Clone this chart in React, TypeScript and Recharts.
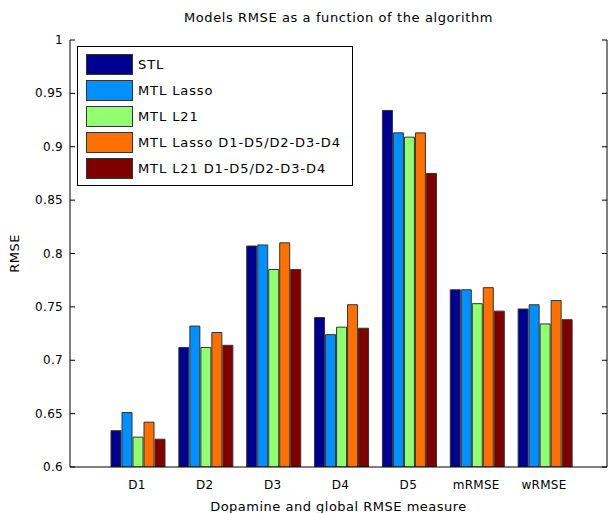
import React from 'react';
import { BarChart, Bar, XAxis, YAxis } from 'recharts';

const categories = ['D1', 'D2', 'D3', 'D4', 'D5', 'mRMSE', 'wRMSE'];
const stl = [0.634, 0.712, 0.807, 0.74, 0.934, 0.766, 0.748];
const mtlLasso = [0.651, 0.732, 0.808, 0.724, 0.913, 0.766, 0.752];
const mtlL21 = [0.628, 0.712, 0.785, 0.731, 0.909, 0.753, 0.734];
const mtlLassoGroups = [0.642, 0.726, 0.81, 0.752, 0.913, 0.768, 0.756];
const mtlL21Groups = [0.626, 0.714, 0.785, 0.73, 0.875, 0.746, 0.738];
const yTicks = [0.6, 0.65, 0.7, 0.75, 0.8, 0.85, 0.9, 0.95, 1];

const seriesNames = ['STL', 'MTL Lasso', 'MTL L21', 'MTL Lasso D1-D5/D2-D3-D4', 'MTL L21 D1-D5/D2-D3-D4'];
const seriesColors = ['#000090', '#0090ff', '#90ff70', '#ff7000', '#800000'];
const seriesValues = [stl, mtlLasso, mtlL21, mtlLassoGroups, mtlL21Groups];

const data = categories.map((name, i) => {
  const row: any = { name };
  seriesNames.forEach((s, k) => { row['s' + k] = seriesValues[k][i]; });
  return row;
});

const FONT = '"DejaVu Sans", Verdana, sans-serif';
const W = 609;
const H = 513;
const LEFT = 70;
const TOP = 40;
const RIGHT = 607;
const BOTTOM = 467;

const LeftTick = (props: any) => {
  const { y, payload } = props;
  return (
    <g>
      <line x1={LEFT} x2={LEFT + 5} y1={y} y2={y} stroke="#000" />
      <text x={LEFT - 7} y={y + 4} textAnchor="end" fontSize={12} fontFamily={FONT} fill="#000" letterSpacing={0.3}>
        {String(payload.value)}
      </text>
    </g>
  );
};

const RightTick = (props: any) => {
  const { y } = props;
  return <line x1={RIGHT - 5} x2={RIGHT} y1={y} y2={y} stroke="#000" />;
};

const TopTick = (props: any) => {
  const { x } = props;
  return <line x1={x} x2={x} y1={TOP} y2={TOP + 5} stroke="#000" />;
};

const BottomTick = (props: any) => {
  const { x, payload } = props;
  return (
    <text x={x} y={BOTTOM + 22} textAnchor="middle" fontSize={12} fontFamily={FONT} fill="#000" letterSpacing={0.3}>
      {payload.value}
    </text>
  );
};

const LegendBox = () => (
  <div
    style={{
      position: 'absolute',
      top: 46,
      left: 77,
      width: 276,
      border: '1px solid #000',
      background: '#fff',
      padding: '4px 0 4px 8px',
      fontFamily: FONT,
      fontSize: 13,
      letterSpacing: 0.9,
      boxSizing: 'border-box',
    }}
  >
    {seriesNames.map((n, k) => (
      <div key={n} style={{ display: 'flex', alignItems: 'center', height: 26 }}>
        <div
          style={{
            width: 45,
            height: 19,
            background: seriesColors[k],
            border: '1px solid #333',
            marginRight: 5,
            flexShrink: 0,
          }}
        />
        <span style={{ whiteSpace: 'nowrap' }}>{n}</span>
      </div>
    ))}
  </div>
);

export default function App() {
  return (
    <div style={{ position: 'absolute', left: 0, top: 0, width: W, height: H, background: '#fff' }}>
      <div
        style={{
          position: 'absolute',
          top: 10,
          left: LEFT,
          width: RIGHT - LEFT,
          textAlign: 'center',
          fontFamily: FONT,
          fontSize: 13,
          letterSpacing: 0.6,
        }}
      >
        Models RMSE as a function of the algorithm
      </div>
      <BarChart
        width={W}
        height={H}
        data={data}
        margin={{ top: TOP, right: W - RIGHT - 2, bottom: 0, left: 0 }}
        barCategoryGap={8}
        barGap={1}
      >
        <XAxis
          dataKey="name"
          xAxisId="bottom"
          height={H - BOTTOM}
          padding={{ left: 33, right: 29 }}
          axisLine={{ stroke: '#000' }}
          tickLine={false}
          tick={<BottomTick />}
          interval={0}
          label={{
            value: 'Dopamine and global RMSE measure',
            position: 'insideBottom',
            offset: 2,
            fontSize: 13,
            fontFamily: FONT,
            letterSpacing: 0.5,
            fill: '#000',
          }}
        />
        <XAxis
          dataKey="name"
          xAxisId="top"
          orientation="top"
          height={0}
          padding={{ left: 33, right: 29 }}
          axisLine={{ stroke: '#000' }}
          tickLine={false}
          tick={<TopTick />}
          interval={0}
        />
        <YAxis
          yAxisId="left"
          width={LEFT}
          domain={[0.6, 1]}
          ticks={yTicks}
          allowDataOverflow
          axisLine={{ stroke: '#000' }}
          tickLine={false}
          tick={<LeftTick />}
          interval={0}
          label={{
            value: 'RMSE',
            angle: -90,
            position: 'insideLeft',
            offset: 14,
            fontSize: 13,
            fontFamily: FONT,
            letterSpacing: 0.5,
            fill: '#000',
            style: { textAnchor: 'middle' },
          }}
        />
        <YAxis
          yAxisId="right"
          orientation="right"
          width={2}
          domain={[0.6, 1]}
          ticks={yTicks}
          allowDataOverflow
          axisLine={{ stroke: '#000' }}
          tickLine={false}
          tick={<RightTick />}
          interval={0}
        />
        {seriesNames.map((n, k) => (
          <Bar
            key={n}
            dataKey={'s' + k}
            name={n}
            xAxisId="bottom"
            yAxisId="left"
            fill={seriesColors[k]}
            stroke="#333"
            strokeWidth={1}
            isAnimationActive={false}
          />
        ))}
      </BarChart>
      <LegendBox />
    </div>
  );
}
